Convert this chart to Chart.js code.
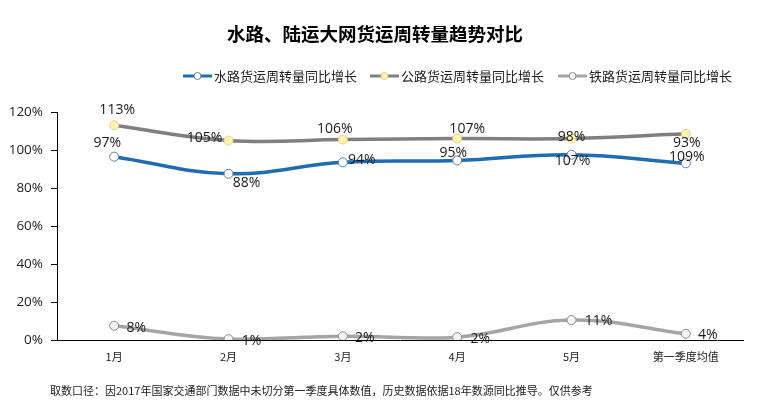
<!DOCTYPE html>
<html><head><meta charset="utf-8">
<script src="https://cdn.jsdelivr.net/npm/chart.js@4.4.1/dist/chart.umd.min.js"></script>
<style>html,body{margin:0;padding:0;background:#fff;}#wrap{width:770px;height:413px;position:relative;}</style>
</head><body><div id="wrap"><canvas id="c" width="770" height="413"></canvas></div>
<script>
const categories = ['1月','2月','3月','4月','5月','第一季度均值'];
const seriesNames = ['水路货运周转量同比增长','公路货运周转量同比增长','铁路货运周转量同比增长'];
const waterValues = [96.5, 87.5, 93.5, 94.5, 97.5, 93];
const roadValues  = [113, 105, 105.5, 106, 106, 108.5];
const railValues  = [7.5, 0.5, 2, 1.5, 10.5, 3.3];
const waterLabels = ['97%','88%','94%','95%','107%','109%'];
const roadLabels  = ['113%','105%','106%','107%','98%','93%'];
const railLabels  = ['8%','1%','2%','2%','11%','4%'];
const yTicks = [0,20,40,60,80,100,120];
const titleText = '水路、陆运大网货运周转量趋势对比';
const noteText = '取数口径：因2017年国家交通部门数据中未切分第一季度具体数值，历史数据依据18年数源同比推导。仅供参考';

const FONT = '"Open Sans","Noto Sans CJK SC",sans-serif';
const CJK = '"Noto Sans CJK SC","Open Sans",sans-serif';

// label offsets (style): [dx, dy] from point centre to label centre
const labelOffsets = [
  [[-7,-14],[18,9],[19,-2],[-4,-7],[1,6],[1,-6]],
  [[3,-15],[-24,-2],[-8,-11],[10,-10],[0,-2],[1,9]],
  [[22,2],[23,2],[22,2],[23,2],[27,1],[22,1]]
];
const labelSets = [waterLabels, roadLabels, railLabels];

const colors = {
  water: '#1f6cb0', road: '#7f7f7f', rail: '#a5a5a5'
};

const overlay = {
  id: 'overlay',
  afterDatasetsDraw(chart) {
    const ctx = chart.ctx;
    ctx.save();
    ctx.fillStyle = '#1a1a1a';
    ctx.font = '14px ' + FONT;
    ctx.textAlign = 'center';
    ctx.textBaseline = 'middle';
    chart.data.datasets.forEach((ds, i) => {
      const meta = chart.getDatasetMeta(i);
      meta.data.forEach((pt, j) => {
        const o = labelOffsets[i][j];
        ctx.fillText(labelSets[i][j], pt.x + o[0], pt.y + o[1]);
      });
    });
    ctx.restore();
  },
  afterDraw(chart) {
    const ctx = chart.ctx;
    ctx.save();
    // title
    ctx.fillStyle = '#000';
    ctx.font = 'bold 18.5px ' + CJK;
    ctx.textAlign = 'center';
    ctx.textBaseline = 'middle';
    ctx.fillText(titleText, 375, 34);
    // legend
    const lx = [183, 370, 558];
    ctx.font = '13px ' + CJK;
    ctx.textAlign = 'left';
    chart.data.datasets.forEach((ds, i) => {
      const x = lx[i], y = 76;
      ctx.strokeStyle = ds.borderColor;
      ctx.lineWidth = 3;
      ctx.beginPath(); ctx.moveTo(x, y); ctx.lineTo(x + 29, y); ctx.stroke();
      ctx.beginPath(); ctx.arc(x + 14.5, y, 3.5, 0, Math.PI * 2);
      ctx.fillStyle = ds.pointBackgroundColor; ctx.fill();
      ctx.lineWidth = 1; ctx.strokeStyle = ds.pointBorderColor; ctx.stroke();
      ctx.fillStyle = '#222';
      ctx.fillText(ds.label, x + 31, y);
    });
    // note
    ctx.font = '11px ' + CJK;
    ctx.fillStyle = '#222';
    ctx.fillText(noteText, 50, 391);
    ctx.restore();
  }
};

function mk(label, data, color, pbg, pbd) {
  return {
    label, data, borderColor: color, borderWidth: 3.5,
    tension: 0.4, cubicInterpolationMode: 'default',
    pointRadius: 4.5, pointBackgroundColor: pbg, pointBorderColor: pbd,
    pointBorderWidth: 1, fill: false
  };
}

new Chart(document.getElementById('c'), {
  type: 'line',
  data: {
    labels: categories,
    datasets: [
      mk(seriesNames[0], waterValues, colors.water, '#ffffff', '#5a7ea8'),
      mk(seriesNames[1], roadValues, colors.road, '#fff3b0', '#e6d27a'),
      mk(seriesNames[2], railValues, colors.rail, '#f4f4f4', '#8c8c8c')
    ]
  },
  options: {
    responsive: false, animation: false,
    layout: { padding: { top: 112, left: 0, right: 27, bottom: 0 } },
    plugins: { legend: { display: false }, title: { display: false }, tooltip: { enabled: false } },
    scales: {
      x: {
        offset: true,
        grid: { display: false, drawTicks: false },
        border: { display: true, color: '#000', width: 1 },
        ticks: { color: '#222', font: { size: 11, family: CJK }, padding: 10, maxRotation: 0, autoSkip: false },
        afterFit(s) { s.height = 73; }
      },
      y: {
        min: 0, max: 120,
        afterBuildTicks(s) { s.ticks = yTicks.map(v => ({ value: v })); },
        grid: { drawOnChartArea: false, drawTicks: true, tickLength: 6, color: '#000' },
        border: { display: true, color: '#000', width: 1 },
        ticks: { color: '#222', font: { size: 13.5, family: FONT }, padding: 8, callback: v => v + '%' },
        afterFit(s) { s.width = 57; }
      }
    }
  },
  plugins: [overlay]
});
</script>
</body></html>
